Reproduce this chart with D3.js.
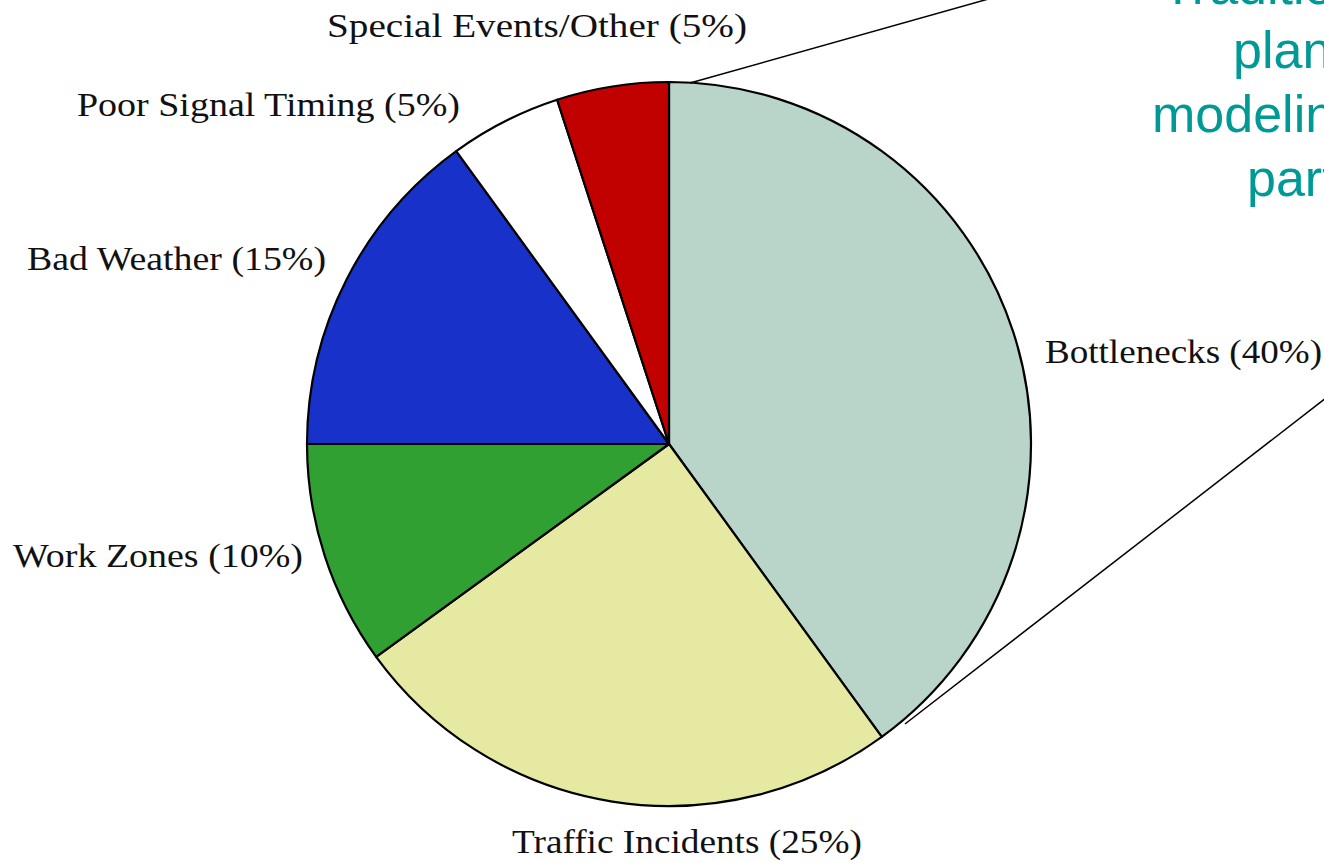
<!DOCTYPE html>
<html>
<head>
<meta charset="utf-8">
<script src="https://cdn.jsdelivr.net/npm/d3@7"></script>
<style>
  body { margin: 0; background: #fff; overflow: hidden; }
  svg { display: block; }
</style>
</head>
<body>
<svg></svg>
<script>
// slices, clockwise from 12 o'clock
const causes = ["Bottlenecks", "Traffic Incidents", "Work Zones", "Bad Weather", "Poor Signal Timing", "Special Events/Other"];
const shares = [40, 25, 10, 15, 5, 5];
const colors = ["#b9d4c9", "#e6e9a1", "#31a033", "#1832c9", "#ffffff", "#c10000"];

// label anchor (left x, baseline y, target width)
const labelX = [1045, 512, 13, 27, 77, 327];
const labelY = [363, 853, 567, 270, 116, 37];
const labelW = [277, 350, 290, 299, 383, 420];

// teal note at the top right, cut by the page edge
const noteLines = ["Traditional", "planning and", "modeling focus", "part of the problem"];
const noteX = [1162, 1233, 1152, 1247];
const noteY = [4, 68, 132, 196];

const [w, h] = [1324, 862];
const [cx, cy, r] = [669, 444, 362];

const svg = d3.select("svg").attr("width", w).attr("height", h);

//Create the pie
const pie = d3.pie().sort(null).value(d => d);
const arc = d3.arc().innerRadius(0).outerRadius(r);

const g = svg.append("g").attr("transform", `translate(${cx}, ${cy})`);
g.selectAll("path").data(pie(shares)).enter().append("path")
  .attr("d", arc)
  .attr("fill", (d, i) => colors[i])
  .attr("stroke", "#000")
  .attr("stroke-width", 2.2)
  .attr("stroke-linejoin", "round");

//callout lines leaving the bottleneck slice
svg.append("line").attr("x1", 690).attr("y1", 83).attr("x2", 992).attr("y2", -2)
  .attr("stroke", "#000").attr("stroke-width", 1.5);
svg.append("line").attr("x1", 905).attr("y1", 724).attr("x2", 1326).attr("y2", 398)
  .attr("stroke", "#000").attr("stroke-width", 1.5);

//slice labels
svg.selectAll("text.lbl").data(causes).enter().append("text")
  .attr("class", "lbl")
  .attr("x", (d, i) => labelX[i])
  .attr("y", (d, i) => labelY[i])
  .attr("font-family", "'Liberation Serif', 'DejaVu Serif', serif")
  .attr("font-size", 34)
  .attr("fill", "#111")
  .attr("textLength", (d, i) => labelW[i])
  .attr("lengthAdjust", "spacingAndGlyphs")
  .text((d, i) => `${d} (${shares[i]}%)`);

//note text
svg.selectAll("text.note").data(noteLines).enter().append("text")
  .attr("class", "note")
  .attr("x", (d, i) => noteX[i])
  .attr("y", (d, i) => noteY[i])
  .attr("font-family", "'Liberation Sans', Arial, sans-serif")
  .attr("font-size", 52)
  .attr("fill", "#009a96")
  .text(d => d);
</script>
</body>
</html>
